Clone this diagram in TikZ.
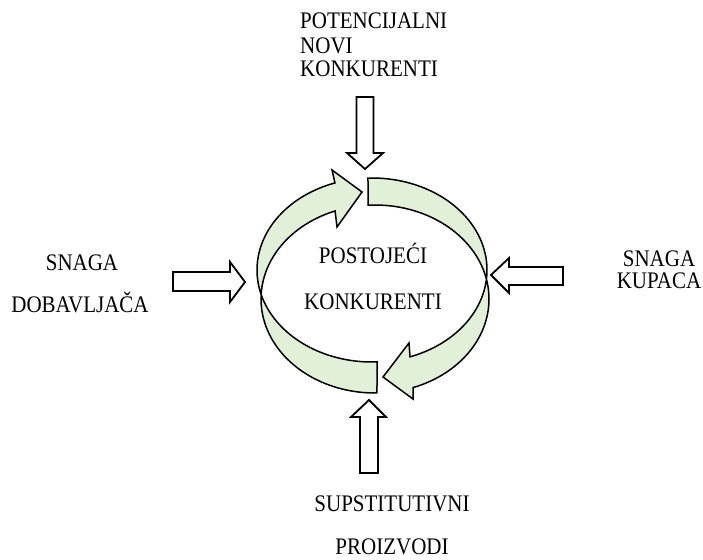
\documentclass[tikz,border=0pt]{standalone}
\usepackage{fontspec}
\setmainfont{Liberation Serif}
\definecolor{ringgreen}{HTML}{E2EFD9}
\newcommand{\tallt}[1]{\scalebox{1}[1.13]{#1}}
\begin{document}
\begin{tikzpicture}[x=1pt,y=-1pt,
  lbl/.style={inner sep=0pt,font=\fontsize{21}{24}\selectfont},
  blockarrow/.style={draw=black,fill=white,line width=1.8pt,line join=miter},
  ringarrow/.style={draw=black,fill=ringgreen,line width=1.5pt,line join=miter}]
\useasboundingbox (0,0) rectangle (703,559);
% texts
\node[lbl,anchor=base west] (pot) at (300,29) {\tallt{POTENCIJALNI}};
\node[lbl,anchor=base west] (novi) at (300,54) {\tallt{NOVI}};
\node[lbl,anchor=base west] (konkt) at (300,77) {\tallt{KONKURENTI}};
\node[lbl,anchor=base] (snagal) at (82,270) {\tallt{SNAGA}};
\node[lbl,anchor=base] (dob) at (80,312) {\tallt{DOBAVLJAČA}};
\node[lbl,anchor=base] (snagar) at (659,266) {\tallt{SNAGA}};
\node[lbl,anchor=base] (kup) at (659,288) {\tallt{KUPACA}};
\node[lbl,anchor=base] (postoj) at (373,263) {\tallt{POSTOJEĆI}};
\node[lbl,anchor=base] (konkc) at (373,309) {\tallt{KONKURENTI}};
\node[lbl,anchor=base] (sup) at (392,511) {\tallt{SUPSTITUTIVNI}};
\node[lbl,anchor=base] (proiz) at (392,554) {\tallt{PROIZVODI}};
% ring arrows
\draw[ringarrow] plot[domain=-92:70.7,samples=80] ({372+115*cos(\x)},{270+92*sin(\x)})
  -- (409,343) -- (383,377) -- (413,399)
  -- plot[domain=70.5:-93.5,samples=80] ({375+114*cos(\x)},{299+94*sin(\x)}) -- cycle;
\draw[ringarrow] plot[domain=87.5:251.2,samples=80] ({372+115*cos(\x)},{270+92*sin(\x)})
  -- (332,170) -- (362,192) -- (337,227)
  -- plot[domain=249.5:89,samples=80] ({375+114*cos(\x)},{299+94*sin(\x)}) -- cycle;
% block arrows
\draw[blockarrow] (356.5,97) -- (373.5,97) -- (373.5,153) -- (383,153) -- (365,169)
  -- (347,153) -- (356.5,153) -- cycle;
\draw[blockarrow] (360,473) -- (378,473) -- (378,417) -- (386,417) -- (369,400)
  -- (351,417) -- (360,417) -- cycle;
\draw[blockarrow] (173,272) -- (230,272) -- (230,262) -- (245,282) -- (230,302)
  -- (230,291) -- (173,291) -- cycle;
\draw[blockarrow] (563,267) -- (509,267) -- (509,258) -- (491,275) -- (509,293)
  -- (509,285) -- (563,285) -- cycle;
\end{tikzpicture}
\end{document}
